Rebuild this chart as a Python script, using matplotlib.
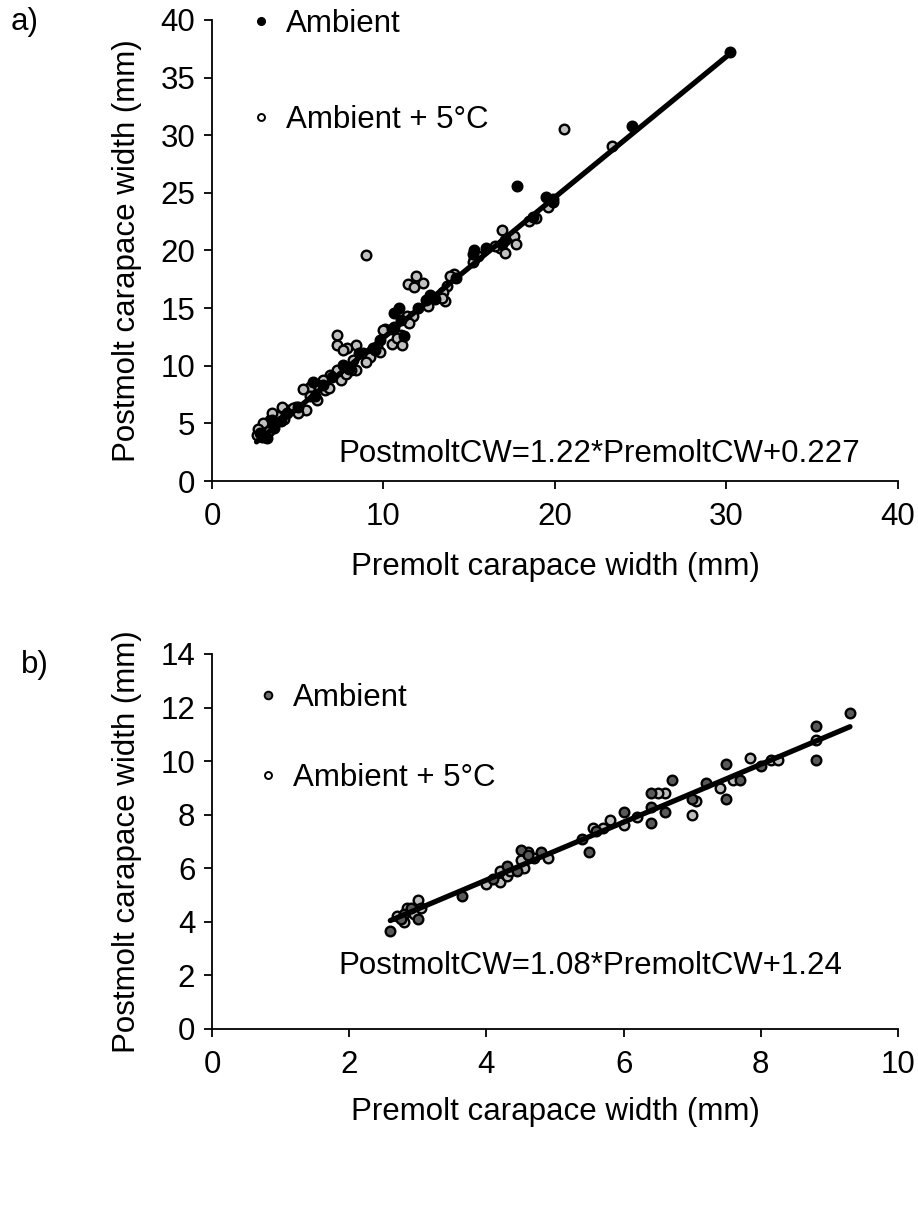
import numpy as np
import matplotlib
matplotlib.use('Agg')
import matplotlib.pyplot as plt
from matplotlib.lines import Line2D

plt.rcParams['font.family'] = ['Liberation Sans', 'DejaVu Sans']
FS = 22.5

# ---- panel a data (premolt, postmolt carapace width, mm) ----
a_amb_x = [30.2, 24.5, 17.8, 19.5, 18.7, 17.1, 16.0, 15.3, 15.2, 14.2, 12.7, 12.5, 10.9, 11.0,
           10.6, 9.8, 8.6, 7.65, 5.9, 6.5, 4.4, 3.5, 3.0, 3.2, 2.8, 11.2, 9.5, 8.0, 7.0, 5.0,
           4.0, 13.0, 16.9, 19.9, 6.0, 3.6, 2.9, 12.0, 10.5]
a_amb_y = [37.2, 30.8, 25.6, 24.6, 22.9, 20.9, 20.2, 20.0, 19.7, 17.6, 16.1, 15.7, 15.0, 14.0,
           14.6, 12.2, 11.1, 10.1, 8.6, 8.3, 5.9, 5.3, 3.9, 3.7, 4.2, 12.6, 11.4, 9.7, 9.0, 6.4,
           5.2, 15.8, 20.6, 24.2, 7.4, 4.6, 3.8, 15.0, 13.2]
a_warm_x = [20.5, 23.3, 9.0, 19.9, 19.6, 18.5, 16.9, 17.6, 17.7, 16.8, 17.1, 15.3, 16.5, 14.1,
            13.9, 13.7, 13.5, 13.6, 11.9, 11.45, 11.8, 12.3, 11.35, 10.1, 10.6, 11.0, 10.5, 9.4,
            8.4, 7.85, 9.2, 7.3, 7.3, 7.65, 8.8, 8.2, 8.4, 7.3, 6.9, 6.5, 5.7, 5.3, 5.7, 5.5,
            4.9, 4.4, 3.8, 3.4, 2.8, 3.0, 2.6, 4.1, 3.5, 3.0, 2.7, 3.1, 11.7, 11.5, 10.0, 9.6,
            9.2, 9.0, 6.6, 6.1, 4.7, 8.1, 7.5, 15.2, 15.5, 12.6, 18.9, 13.4, 10.8, 11.1, 9.8,
            6.2, 5.0, 4.2, 3.3, 6.8, 7.8]
a_warm_y = [30.5, 29.1, 19.6, 24.5, 23.8, 22.6, 21.8, 21.3, 20.6, 20.2, 19.8, 19.3, 20.4, 18.0,
            17.8, 16.9, 16.4, 15.6, 17.8, 17.1, 16.8, 17.2, 14.3, 13.2, 13.4, 12.7, 11.9, 11.5,
            11.8, 11.5, 10.9, 12.7, 11.8, 11.4, 11.1, 10.5, 9.6, 9.6, 9.2, 8.8, 8.2, 8.0, 7.4, 6.2,
            6.4, 6.2, 5.6, 5.3, 4.4, 4.0, 4.0, 6.4, 5.9, 5.0, 4.5, 3.8, 14.3, 13.7, 13.1, 11.65,
            10.8, 10.35, 7.9, 7.0, 6.3, 9.6, 8.8, 19.0, 19.5, 15.2, 22.8, 15.9, 12.4, 11.8, 11.2,
            8.3, 5.9, 5.4, 4.3, 8.1, 9.3]
a_slope, a_icpt = 1.22, 0.227

# ---- panel b data ----
b_amb_x = [2.6, 2.8, 2.9, 3.0, 2.75, 3.65, 4.1, 4.3, 4.5, 4.6, 4.45, 5.5, 5.4, 6.0, 6.4, 6.4,
           6.4, 6.6, 6.7, 7.0, 7.2, 7.5, 7.5, 7.7, 8.0, 8.8, 8.8, 9.3, 4.8, 5.6]
b_amb_y = [3.65, 4.3, 4.5, 4.1, 4.1, 4.95, 5.6, 6.1, 6.7, 6.5, 5.9, 6.6, 7.1, 8.1, 8.8, 8.3,
           7.7, 8.1, 9.3, 8.6, 9.2, 9.9, 8.6, 9.3, 9.8, 11.3, 10.05, 11.8, 6.6, 7.4]
b_warm_x = [2.7, 2.85, 3.0, 2.95, 3.05, 2.8, 4.0, 4.2, 4.3, 4.35, 4.55, 4.7, 4.9, 4.6, 5.55,
            5.7, 5.8, 6.0, 6.2, 6.6, 7.0, 7.05, 7.4, 7.6, 7.85, 8.15, 8.25, 8.8, 6.5, 4.2, 4.5]
b_warm_y = [4.2, 4.5, 4.8, 4.3, 4.5, 4.0, 5.4, 5.5, 5.7, 5.9, 6.0, 6.4, 6.4, 6.6, 7.5,
            7.5, 7.8, 7.6, 7.9, 8.8, 8.0, 8.5, 9.0, 9.3, 10.1, 10.05, 10.05, 10.8, 8.8, 5.9, 6.3]
b_slope, b_icpt = 1.08, 1.24

labels = ['Ambient', 'Ambient + 5°C']


def style_axes(ax, lim, step):
    ax.set_xlim(0, lim[0])
    ax.set_ylim(0, lim[1])
    ax.set_xticks(np.arange(0, lim[0] + 0.01, step[0]))
    ax.set_yticks(np.arange(0, lim[1] + 0.01, step[1]))
    for s in ['top', 'right']:
        ax.spines[s].set_visible(False)
    for s in ['left', 'bottom']:
        ax.spines[s].set_linewidth(1.3)
    ax.tick_params(direction='out', length=6, width=1.3, labelsize=FS, pad=6)
    ax.tick_params(axis='x', pad=9)
    ax.set_xlabel('Premolt carapace width (mm)', fontsize=FS)
    ax.set_ylabel('Postmolt carapace width (mm)', fontsize=FS)
    ax.xaxis.label.set_va('center')
    ax.yaxis.label.set_va('center')


fig = plt.figure(figsize=(9.18, 12.16), dpi=100)
ax1 = fig.add_axes([0.2309, 0.6044, 0.7473, 0.3792])
ax2 = fig.add_axes([0.2309, 0.1538, 0.7473, 0.3084])

# panel a
ax1.scatter(a_warm_x, a_warm_y, s=48, c='#c0c0c0', edgecolors='black', linewidths=1.7, zorder=2)
ax1.scatter(a_amb_x, a_amb_y, s=48, c='black', edgecolors='black', linewidths=1.7, zorder=3)
xa = np.array([min(a_amb_x + a_warm_x), max(a_amb_x + a_warm_x)])
ax1.plot(xa, a_slope * xa + a_icpt, color='black', lw=3.8, solid_capstyle='round', zorder=4)
style_axes(ax1, (40, 40), (10, 5))
ax1.xaxis.set_label_coords(0.5, -0.187)
ax1.yaxis.set_label_coords(-0.124, 0.5)
ax1.text(0.564, 0.059, 'PostmoltCW=1.22*PremoltCW+0.227', transform=ax1.transAxes,
         ha='center', va='center', fontsize=FS)
h1 = [Line2D([], [], ls='none', marker='o', ms=5.5, mfc='black', mec='black'),
      Line2D([], [], ls='none', marker='o', ms=5, mfc='white', mec='black', mew=1.4)]
ax1.legend(h1, labels, loc='upper left', bbox_to_anchor=(0.035, 1.057), frameon=False,
           fontsize=FS, handlelength=0.6, handletextpad=0.5, labelspacing=2.1, borderpad=0)

# panel b
ax2.scatter(b_warm_x, b_warm_y, s=48, c='#bdbdbd', edgecolors='black', linewidths=1.7, zorder=2)
ax2.scatter(b_amb_x, b_amb_y, s=48, c='#595959', edgecolors='black', linewidths=1.7, zorder=3)
xb = np.array([min(b_amb_x + b_warm_x), max(b_amb_x + b_warm_x)])
ax2.plot(xb, b_slope * xb + b_icpt, color='black', lw=3.8, solid_capstyle='round', zorder=4)
style_axes(ax2, (10, 14), (2, 2))
ax2.xaxis.set_label_coords(0.5, -0.221)
ax2.yaxis.set_label_coords(-0.124, 0.5)
ax2.text(0.552, 0.168, 'PostmoltCW=1.08*PremoltCW+1.24', transform=ax2.transAxes,
         ha='center', va='center', fontsize=FS)
h2 = [Line2D([], [], ls='none', marker='o', ms=5.5, mfc='#707070', mec='black', mew=1.4),
      Line2D([], [], ls='none', marker='o', ms=5, mfc='white', mec='black', mew=1.4)]
ax2.legend(h2, labels, loc='upper left', bbox_to_anchor=(0.045, 0.965), frameon=False,
           fontsize=FS, handlelength=0.6, handletextpad=0.5, labelspacing=1.6, borderpad=0)

fig.text(0.027, 0.982, 'a)', fontsize=FS, ha='center', va='center')
fig.text(0.038, 0.453, 'b)', fontsize=FS, ha='center', va='center')

fig.savefig('out.png', dpi=100)
